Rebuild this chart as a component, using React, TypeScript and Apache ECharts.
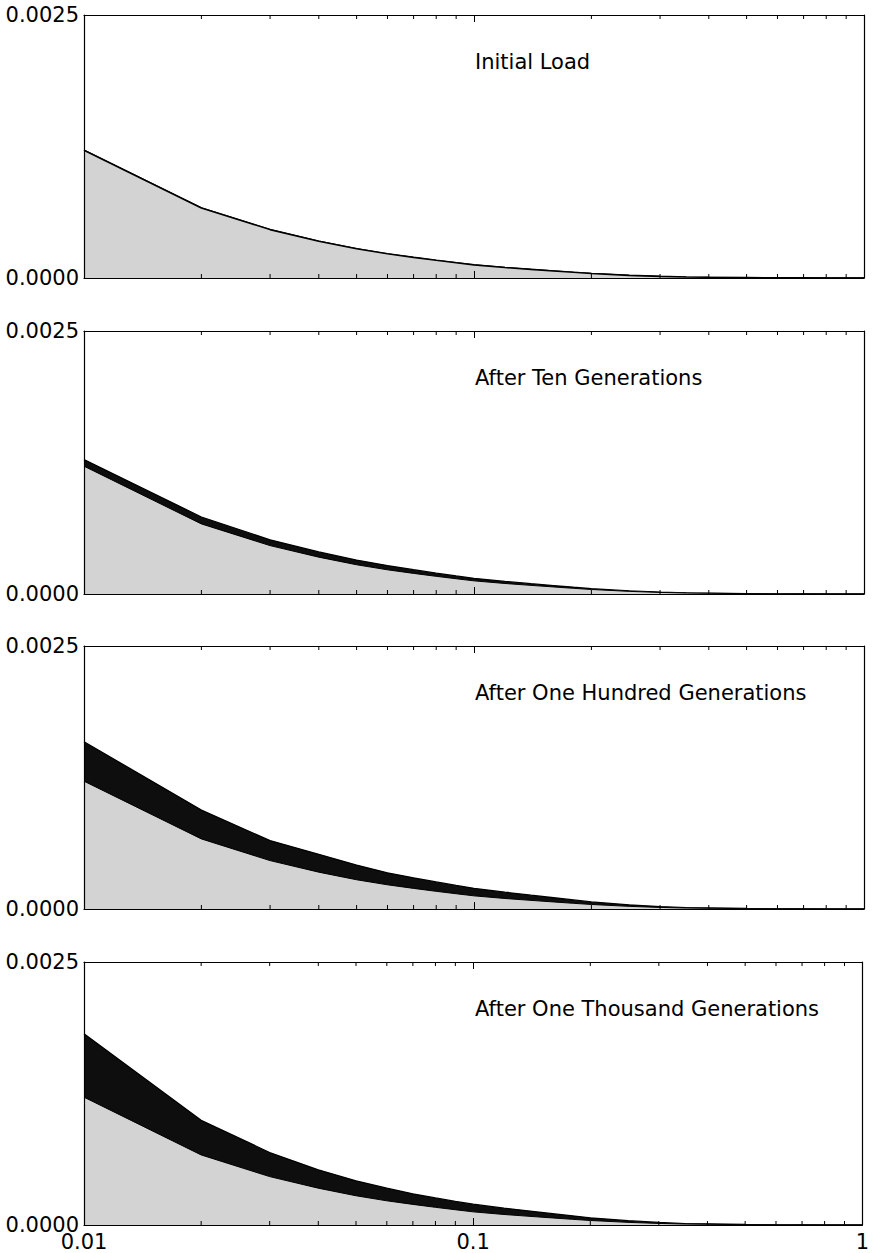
import React, { useEffect, useRef } from "react";
import * as echarts from "echarts";

// Data
const xValues = [0.01, 0.02, 0.03, 0.04, 0.05, 0.06, 0.07, 0.08, 0.09, 0.1, 0.12, 0.14, 0.16, 0.18, 0.2, 0.25, 0.3, 0.35, 0.4, 0.5, 0.6, 0.7, 0.8, 0.9, 1.0];

const initialLoad = [0.001215, 0.000666, 0.00046, 0.00035, 0.000278, 0.00023, 0.000196, 0.000168, 0.000145, 0.000125, 0.0001, 0.000082, 0.000067, 0.000054, 0.000043, 0.000025, 0.000015, 0.000009, 0.0000065, 0.0000035, 0.0000018, 0.000001, 0.0000005, 0.0000003, 0.0000002];

const afterTen = [0.001278, 0.000732, 0.000515, 0.0004, 0.000323, 0.00027, 0.000231, 0.000198, 0.000172, 0.000149, 0.00012, 0.000098, 0.00008, 0.000064, 0.000051, 0.00003, 0.000018, 0.000011, 0.0000083, 0.0000041, 0.0000021, 0.0000012, 0.0000006, 0.00000035, 0.00000023];

const afterHundred = [0.00159, 0.00094, 0.00065, 0.00052, 0.000418, 0.000344, 0.000296, 0.000257, 0.000224, 0.000197, 0.00016, 0.000131, 0.000107, 0.000086, 0.000067, 0.00004, 0.000023, 0.000014, 0.00001, 0.0000047, 0.0000023, 0.0000012, 0.0000006, 0.00000035, 0.00000022];

const afterThousand = [0.001817, 0.000995, 0.000689, 0.000525, 0.00042, 0.00035, 0.000296, 0.000257, 0.000224, 0.000198, 0.00016, 0.000132, 0.000108, 0.000087, 0.000068, 0.000041, 0.000024, 0.000014, 0.000011, 0.000005, 0.0000025, 0.0000013, 0.0000007, 0.0000004, 0.00000025];

const panelTitles = ["Initial Load", "After Ten Generations", "After One Hundred Generations", "After One Thousand Generations"];
const panelTops = [initialLoad, afterTen, afterHundred, afterThousand];

const minorTickValues = [0.02, 0.03, 0.04, 0.05, 0.06, 0.07, 0.08, 0.09, 0.2, 0.3, 0.4, 0.5, 0.6, 0.7, 0.8, 0.9];
const yMin = 0;
const yMax = 0.0025;

const FONT = "DejaVu Sans";

export default function App() {
  const ref = useRef<HTMLDivElement>(null);

  useEffect(() => {
    if (!ref.current) return;
    const chart = echarts.init(ref.current, null, { renderer: "svg" });

    const gridTops = [15, 331, 646, 962];
    const gridH = 263;

    const grid: any[] = [];
    const xAxis: any[] = [];
    const yAxis: any[] = [];
    const series: any[] = [];
    const graphic: any[] = [];

    panelTitles.forEach((title, i) => {
      const isLast = i === panelTitles.length - 1;
      grid.push({ left: 84, right: 8, top: gridTops[i], height: gridH, containLabel: false });

      const commonX = {
        type: "log",
        logBase: 10,
        min: 0.01,
        max: 1,
        gridIndex: i,
        z: 10,
        splitLine: { show: false },
        axisLine: { show: true, onZero: false, lineStyle: { color: "#000", width: 1.2 } },
        axisTick: { show: true, inside: true, length: 7, lineStyle: { color: "#000", width: 1 } },
      };
      xAxis.push({
        ...commonX,
        position: "bottom",
        axisLabel: {
          show: isLast,
          fontFamily: FONT,
          fontSize: 21,
          color: "#000",
          margin: 6,
          formatter: (v: number) => String(+Number(v).toPrecision(3)),
        },
      });
      xAxis.push({ ...commonX, position: "top", axisLabel: { show: false } });

      const commonY = {
        type: "value",
        min: yMin,
        max: yMax,
        interval: 0.0025,
        gridIndex: i,
        z: 10,
        splitLine: { show: false },
        axisTick: { show: false },
        axisLine: { show: true, onZero: false, lineStyle: { color: "#000", width: 1.2 } },
      };
      yAxis.push({
        ...commonY,
        position: "left",
        axisLabel: {
          show: true,
          fontFamily: FONT,
          fontSize: 21,
          color: "#000",
          margin: 5,
          formatter: (v: number) => Number(v).toFixed(4),
        },
      });
      yAxis.push({ ...commonY, position: "right", axisLabel: { show: false } });

      const topVals = panelTops[i];
      series.push({
        type: "line",
        xAxisIndex: 2 * i,
        yAxisIndex: 2 * i,
        data: xValues.map((x, k) => [x, topVals[k]]),
        symbol: "none",
        smooth: false,
        lineStyle: { color: "#000", width: 1.3 },
        areaStyle: { color: "#0e0e0e", opacity: 1 },
        z: 2,
        silent: true,
      });
      series.push({
        type: "line",
        xAxisIndex: 2 * i,
        yAxisIndex: 2 * i,
        data: xValues.map((x, k) => [x, initialLoad[k]]),
        symbol: "none",
        smooth: false,
        lineStyle: { color: "#000", width: i === 0 ? 1.6 : 1 },
        areaStyle: { color: "#d3d3d3", opacity: 1 },
        z: 3,
        silent: true,
      });
      series.push({
        type: "custom",
        xAxisIndex: 2 * i,
        yAxisIndex: 2 * i,
        data: minorTickValues.map((v) => [v, yMin]),
        z: 11,
        silent: true,
        clip: false,
        renderItem: (params: any, api: any) => {
          const x = api.value(0);
          const b = api.coord([x, yMin]);
          const t = api.coord([x, yMax]);
          return {
            type: "group",
            children: [
              { type: "line", shape: { x1: b[0], y1: b[1], x2: b[0], y2: b[1] - 4 }, style: { stroke: "#000", lineWidth: 1 } },
              { type: "line", shape: { x1: t[0], y1: t[1], x2: t[0], y2: t[1] + 4 }, style: { stroke: "#000", lineWidth: 1 } },
            ],
          };
        },
      });

      graphic.push({
        type: "text",
        x: 475,
        y: gridTops[i] + 47,
        z: 20,
        style: {
          text: title,
          fontFamily: FONT,
          fontSize: 21,
          fill: "#000",
          verticalAlign: "middle",
          align: "left",
        },
      });
    });

    chart.setOption({
      animation: false,
      backgroundColor: "#fff",
      grid,
      xAxis,
      yAxis,
      series,
      graphic,
    });

    return () => chart.dispose();
  }, []);

  return (
    <div
      ref={ref}
      style={{ position: "absolute", left: 0, top: 0, width: 872, height: 1253 }}
    />
  );
}
